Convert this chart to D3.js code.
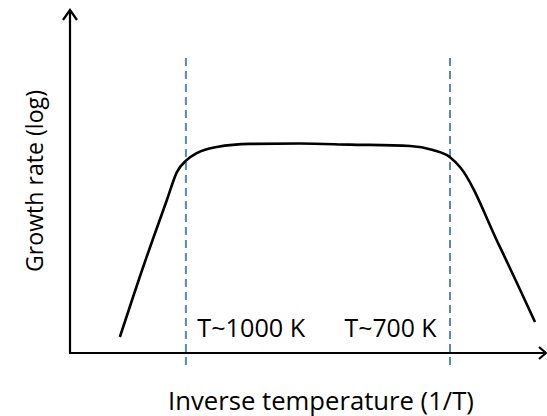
<!DOCTYPE html>
<html><head><meta charset="utf-8">
<script src="https://cdn.jsdelivr.net/npm/d3@7"></script>
<style>body{margin:0;background:#fff}svg{display:block}</style>
</head><body>
<script>
// Data (arbitrary units: x = inverse temperature, y = log growth rate)
const curveX = [10.5, 15.4, 20.4, 22.5, 24.6, 26.7, 30.9, 37.9, 48.4, 58.9, 71.6, 76.4, 80.0, 82.1, 90.5, 97.9];
const curveY = [4.7, 25.3, 45.0, 53.2, 56.8, 58.8, 60.6, 61.5, 61.6, 61.3, 60.9, 59.7, 57.6, 54.7, 31.2, 9.1];
const markerX = [24.4, 80.0];
const markerLabels = ["T~1000 K", "T~700 K"];
const labelX = [26.8, 57.8];
const xTitle = "Inverse temperature (1/T)";
const yTitle = "Growth rate (log)";

const W = 547, H = 416;
const x = d3.scaleLinear().domain([0, 100]).range([70, 545]);
const y = d3.scaleLinear().domain([0, 100]).range([353, 13]);

const svg = d3.select("body").append("svg").attr("width", W).attr("height", H);
const font = "'Open Sans', 'Liberation Sans', sans-serif";

// fit a text's font size so it spans a target width
function fit(sel, target) {
  const n = sel.node();
  const w = n.getComputedTextLength();
  const fs = parseFloat(sel.attr("font-size"));
  sel.attr("font-size", (fs * target / w).toFixed(2));
}

// dashed markers
svg.selectAll("line.marker").data(markerX).enter().append("line")
  .attr("class", "marker")
  .attr("x1", d => x(d)).attr("x2", d => x(d))
  .attr("y1", y(86.8)).attr("y2", y(-4.5))
  .attr("stroke", "#5a85bd").attr("stroke-width", 2).attr("stroke-dasharray", "8,5");

// axes
const ax = svg.append("g").attr("stroke", "#000").attr("stroke-width", 2.2).attr("fill", "none");
ax.append("line").attr("x1", x(0)).attr("x2", x(0)).attr("y1", y(0)).attr("y2", y(100) - 2);
ax.append("line").attr("x1", x(0) - 1).attr("x2", x(100) + 1).attr("y1", y(0)).attr("y2", y(0));
// arrowheads
ax.append("path").attr("d", `M${x(0)-7},${y(100)+7} L${x(0)},${y(100)-3} L${x(0)+7},${y(100)+7}`);
ax.append("path").attr("d", `M${x(100)-6},${y(0)-6} L${x(100)+1},${y(0)} L${x(100)-6},${y(0)+6}`);

// curve
const pts = curveX.map((d, i) => [d, curveY[i]]);
svg.append("path").datum(pts)
  .attr("d", d3.line().x(d => x(d[0])).y(d => y(d[1])).curve(d3.curveMonotoneX))
  .attr("fill", "none").attr("stroke", "#000").attr("stroke-width", 2.6);

// labels
const mkWidths = [108, 92];
svg.selectAll("text.mk").data(markerLabels).enter().append("text")
  .attr("class", "mk")
  .attr("x", (d, i) => x(labelX[i])).attr("y", 337)
  .attr("font-family", font).attr("font-size", 20).attr("fill", "#000")
  .text(d => d)
  .each(function (d, i) { fit(d3.select(this), mkWidths[i]); });

const xt = svg.append("text").attr("x", 321).attr("y", 410).attr("text-anchor", "middle")
  .attr("font-family", font).attr("font-size", 20).text(xTitle);
fit(xt, 306);

const yt = svg.append("text").attr("transform", "translate(43,181) rotate(-90)").attr("text-anchor", "middle")
  .attr("font-family", font).attr("font-size", 20).text(yTitle);
fit(yt, 182);
</script>
</body></html>
